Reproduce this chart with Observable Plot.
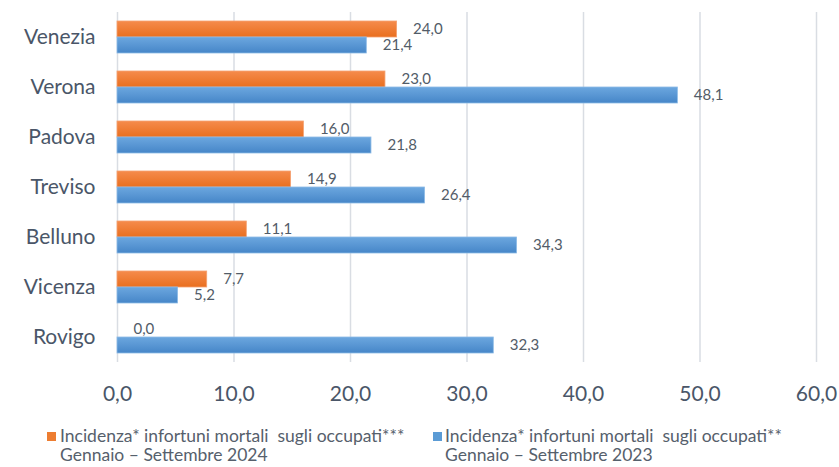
<!DOCTYPE html>
<html>
<head>
<meta charset="utf-8">
<script src="https://cdn.jsdelivr.net/npm/d3@7"></script>
<script src="https://cdn.jsdelivr.net/npm/@observablehq/plot@0.6"></script>
<style>
  body { margin: 0; background: #fff; font-family: Lato, "Open Sans", sans-serif; }
  #wrap { position: relative; width: 839px; height: 467px; }
  #chart { position: absolute; left: 0; top: 0; }
  .leg { position: absolute; font-size: 17.5px; color: #56606c; line-height: 18px; white-space: nowrap; }
  .sw { position: absolute; width: 9px; height: 9px; }
</style>
</head>
<body>
<div id="wrap">
  <div id="chart"></div>
  <div class="sw" style="left:47px; top:432px; background:#ED7D31"></div>
  <div class="leg" style="left:60px; top:427px;">Incidenza* infortuni mortali&nbsp; sugli occupati***</div>
  <div class="leg" style="left:60px; top:446px;">Gennaio – Settembre 2024</div>
  <div class="sw" style="left:433px; top:432px; background:#5B9BD5"></div>
  <div class="leg" style="left:445px; top:427px;">Incidenza* infortuni mortali&nbsp; sugli occupati**</div>
  <div class="leg" style="left:445px; top:446px;">Gennaio – Settembre 2023</div>
</div>
<script>
const cities = ["Venezia", "Verona", "Padova", "Treviso", "Belluno", "Vicenza", "Rovigo"];
const series = ["2024", "2023"];
const v2024 = [24.0, 23.0, 16.0, 14.9, 11.1, 7.7, 0.0];
const v2023 = [21.4, 48.1, 21.8, 26.4, 34.3, 5.2, 32.3];
const xTicks = [0, 10, 20, 30, 40, 50, 60];

const fmt = v => v.toFixed(1).replace(".", ",");

const data = [];
cities.forEach((c, i) => {
  data.push({city: c, series: "2024", value: v2024[i]});
  data.push({city: c, series: "2023", value: v2023[i]});
});

const chart = Plot.plot({
  width: 839,
  height: 412,
  marginLeft: 117,
  marginRight: 23,
  marginTop: 12,
  marginBottom: 50,
  style: {fontFamily: "Lato, 'Open Sans', sans-serif", fontSize: "21px", color: "#4a5668", background: "transparent", overflow: "visible"},
  x: {domain: [0, 60], ticks: xTicks, tickFormat: fmt, tickSize: 0, tickPadding: 24, label: null},
  y: {domain: series, axis: null, paddingInner: 0, paddingOuter: 0.515},
  fy: {domain: cities, padding: 0, label: null, tickSize: 0, tickPadding: 22, axis: "left"},
  marks: [
    Plot.ruleX(xTicks, {x: d => d, stroke: "#D9DDE3", strokeWidth: 1.5}),
    Plot.barX(data, {
      fy: "city", y: "series", x: "value",
      fill: d => d.series === "2024" ? "url(#gO)" : "url(#gB)",
      stroke: d => d.series === "2024" ? "#F4A070" : "#8DBBE6",
      strokeWidth: 0.8
    }),
    Plot.text(data, {
      fy: "city", y: "series", x: "value",
      text: d => fmt(d.value),
      textAnchor: "start", dx: 16,
      fontSize: 15, fill: "#525c68"
    })
  ]
});

const ns = "http://www.w3.org/2000/svg";
const defs = document.createElementNS(ns, "defs");
defs.innerHTML = `
<linearGradient id="gO" x1="0" y1="0" x2="0" y2="1">
  <stop offset="0" stop-color="#F58B4C"/><stop offset="1" stop-color="#E96F1F"/>
</linearGradient>
<linearGradient id="gB" x1="0" y1="0" x2="0" y2="1">
  <stop offset="0" stop-color="#6CA7DF"/><stop offset="1" stop-color="#4686C8"/>
</linearGradient>`;
chart.insertBefore(defs, chart.firstChild);
document.getElementById("chart").appendChild(chart);
</script>
</body>
</html>
